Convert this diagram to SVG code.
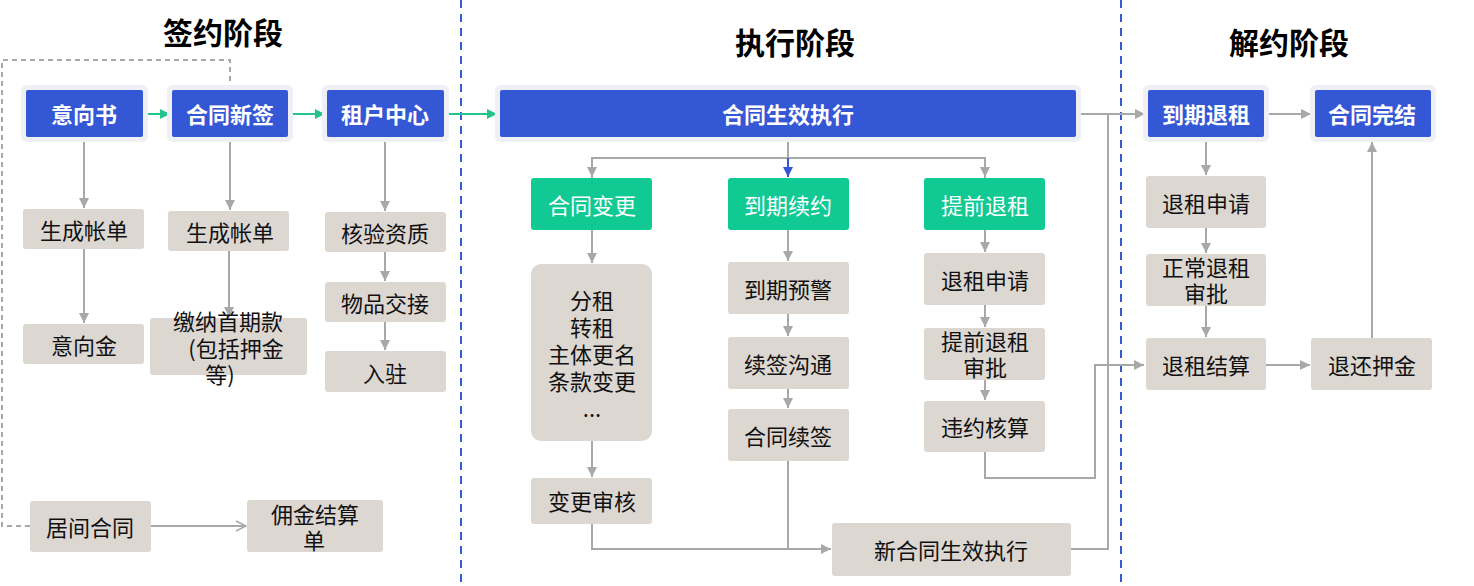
<svg xmlns="http://www.w3.org/2000/svg" width="1474" height="586" viewBox="0 0 1474 586">
<defs>
<style>
text{font-family:"Noto Sans CJK SC","Microsoft YaHei",sans-serif;text-anchor:middle;dominant-baseline:central}
.title{font-size:30px;font-weight:bold;fill:#000}
.bo{fill:#eef0f5}
.b{fill:#3457d5}
.bt{font-size:22px;font-weight:bold;fill:#fff}
.g{fill:#10c993}
.gt{font-size:22px;fill:#fff}
.t{fill:#ddd7d2}
.tt{font-size:22px;fill:#111}
.c{fill:none;stroke:#a8a8a8;stroke-width:2}
.cg{fill:none;stroke:#22c48a;stroke-width:2}
.cb{fill:none;stroke:#3457d5;stroke-width:2}
.div{stroke:#3a5bd0;stroke-width:2;stroke-dasharray:8,6}
</style>
<marker id="ag" viewBox="0 0 10 10" refX="10" refY="5" markerWidth="10" markerHeight="10" markerUnits="userSpaceOnUse" orient="auto"><path d="M0,0L10,5L0,10z" fill="#a8a8a8"/></marker>
<marker id="agr" viewBox="0 0 10 10" refX="10" refY="5" markerWidth="10" markerHeight="10" markerUnits="userSpaceOnUse" orient="auto"><path d="M0,0L10,5L0,10z" fill="#22c48a"/></marker>
<marker id="abl" viewBox="0 0 10 10" refX="10" refY="5" markerWidth="10" markerHeight="10" markerUnits="userSpaceOnUse" orient="auto"><path d="M0,0L10,5L0,10z" fill="#3457d5"/></marker>
<marker id="aopen" viewBox="0 0 12 12" refX="11" refY="6" markerWidth="12" markerHeight="12" markerUnits="userSpaceOnUse" orient="auto"><path d="M1,1L11,6L1,11" fill="none" stroke="#a8a8a8" stroke-width="1.5"/></marker>
</defs>
<rect width="1474" height="586" fill="#fff"/>

<g id="titles">
<text class="title" x="223" y="31">签约阶段</text>
<text class="title" x="795" y="41">执行阶段</text>
<text class="title" x="1289" y="41">解约阶段</text>
</g>

<g id="dividers">
<line class="div" x1="461" y1="0" x2="461" y2="586"/>
<line class="div" x1="1121" y1="0" x2="1121" y2="586"/>
</g>

<g id="connectors">
<path class="c" d="M30,526H2V60H230V85" stroke-dasharray="5,4"/>
<path class="cg" d="M146,114H170" marker-end="url(#agr)"/>
<path class="cg" d="M291,114H325" marker-end="url(#agr)"/>
<path class="cg" d="M447,114H497" marker-end="url(#agr)"/>
<path class="c" d="M84,141V208" marker-end="url(#ag)"/>
<path class="c" d="M84,249V323" marker-end="url(#ag)"/>
<path class="c" d="M230,141V210" marker-end="url(#ag)"/>
<path class="c" d="M229,251V317" marker-end="url(#ag)"/>
<path class="c" d="M385,141V211" marker-end="url(#ag)"/>
<path class="c" d="M385,252V281" marker-end="url(#ag)"/>
<path class="c" d="M385,322V350" marker-end="url(#ag)"/>
<path class="c" d="M151,526H246" marker-end="url(#aopen)"/>
<path class="c" d="M788,137V158M592,178V158H985V178" />
<path class="c" d="M592,158V177" marker-end="url(#ag)"/>
<path class="c" d="M985,158V177" marker-end="url(#ag)"/>
<path class="cb" d="M788,158V177" marker-end="url(#abl)"/>
<path class="c" d="M592,230V263" marker-end="url(#ag)"/>
<path class="c" d="M592,441V477" marker-end="url(#ag)"/>
<path class="c" d="M592,524V549H831" marker-end="url(#ag)"/>
<path class="c" d="M788,230V261" marker-end="url(#ag)"/>
<path class="c" d="M788,314V336" marker-end="url(#ag)"/>
<path class="c" d="M788,389V408" marker-end="url(#ag)"/>
<path class="c" d="M788,461V549"/>
<path class="c" d="M985,230V252" marker-end="url(#ag)"/>
<path class="c" d="M985,305V327" marker-end="url(#ag)"/>
<path class="c" d="M985,380V400" marker-end="url(#ag)"/>
<path class="c" d="M985,452V478H1095V365H1144" marker-end="url(#ag)"/>
<path class="c" d="M1076,114H1145" marker-end="url(#ag)"/>
<path class="c" d="M1071,549H1108V114"/>
<path class="c" d="M1264,114H1311" marker-end="url(#ag)"/>
<path class="c" d="M1206,141V175" marker-end="url(#ag)"/>
<path class="c" d="M1206,228V253" marker-end="url(#ag)"/>
<path class="c" d="M1206,306V337" marker-end="url(#ag)"/>
<path class="c" d="M1266,365H1310" marker-end="url(#ag)"/>
<path class="c" d="M1372,338V142" marker-end="url(#ag)"/>
</g>

<g id="n-yixiangshu"><rect class="bo" x="21" y="85" width="127" height="57" rx="6"/><rect class="b" x="26" y="90" width="117" height="47" rx="2"/><text class="bt" x="84" y="113">意向书</text></g>
<g id="n-hetongxinqian"><rect class="bo" x="167" y="85" width="126" height="57" rx="6"/><rect class="b" x="172" y="90" width="116" height="47" rx="2"/><text class="bt" x="230" y="113">合同新签</text></g>
<g id="n-zuhuzhongxin"><rect class="bo" x="322" y="85" width="127" height="57" rx="6"/><rect class="b" x="327" y="90" width="117" height="47" rx="2"/><text class="bt" x="385" y="113">租户中心</text></g>

<g id="n-shengchengzhangdan1"><rect class="t" x="23" y="209" width="121" height="40" rx="3"/><text class="tt" x="84" y="229">生成帐单</text></g>
<g id="n-shengchengzhangdan2"><rect class="t" x="168" y="211" width="121" height="40" rx="3"/><text class="tt" x="230" y="231">生成帐单</text></g>
<g id="n-heyanzizhi"><rect class="t" x="325" y="212" width="121" height="40" rx="3"/><text class="tt" x="385" y="232">核验资质</text></g>
<g id="n-yixiangjin"><rect class="t" x="23" y="324" width="121" height="40" rx="3"/><text class="tt" x="84" y="344">意向金</text></g>
<g id="n-jiaona"><rect class="t" x="150" y="318" width="157" height="57" rx="3"/><text class="tt"><tspan x="228" y="320">缴纳首期款</tspan><tspan x="236" y="347">(包括押金</tspan><tspan x="220" y="373">等)</tspan></text></g>
<g id="n-wupinjiaojie"><rect class="t" x="325" y="282" width="121" height="40" rx="3"/><text class="tt" x="385" y="302">物品交接</text></g>
<g id="n-ruzhu"><rect class="t" x="325" y="351" width="121" height="41" rx="3"/><text class="tt" x="385" y="372">入驻</text></g>
<g id="n-jujianhetong"><rect class="t" x="30" y="501" width="121" height="51" rx="3"/><text class="tt" x="90" y="526">居间合同</text></g>
<g id="n-yongjin"><rect class="t" x="247" y="500" width="136" height="52" rx="3"/><text class="tt"><tspan x="315" y="513">佣金结算</tspan><tspan x="314" y="539">单</tspan></text></g>

<g id="n-hetongshengxiao"><rect class="bo" x="495" y="85" width="586" height="57" rx="6"/><rect class="b" x="500" y="90" width="576" height="47" rx="2"/><text class="bt" x="788" y="113">合同生效执行</text></g>

<g id="n-hetongbiangeng"><rect class="g" x="531" y="178" width="121" height="52" rx="3"/><text class="gt" x="592" y="204">合同变更</text></g>
<g id="n-daqixuyue"><rect class="g" x="728" y="178" width="121" height="52" rx="3"/><text class="gt" x="788" y="204">到期续约</text></g>
<g id="n-tiqiantuizu"><rect class="g" x="924" y="178" width="121" height="52" rx="3"/><text class="gt" x="985" y="204">提前退租</text></g>

<g id="n-fenzu"><rect class="t" x="531" y="264" width="121" height="177" rx="10"/><text class="tt"><tspan x="592" y="299">分租</tspan><tspan x="592" y="326">转租</tspan><tspan x="592" y="353">主体更名</tspan><tspan x="592" y="380">条款变更</tspan><tspan x="592" y="407">...</tspan></text></g>
<g id="n-biangengshenhe"><rect class="t" x="531" y="478" width="121" height="46" rx="3"/><text class="tt" x="592" y="500">变更审核</text></g>
<g id="n-daoqiyujing"><rect class="t" x="728" y="262" width="121" height="52" rx="3"/><text class="tt" x="788" y="288">到期预警</text></g>
<g id="n-xuqiangoutong"><rect class="t" x="728" y="337" width="121" height="52" rx="3"/><text class="tt" x="788" y="363">续签沟通</text></g>
<g id="n-hetongxuqian"><rect class="t" x="728" y="409" width="121" height="52" rx="3"/><text class="tt" x="788" y="435">合同续签</text></g>
<g id="n-tuizushenqing1"><rect class="t" x="924" y="253" width="121" height="52" rx="3"/><text class="tt" x="985" y="279">退租申请</text></g>
<g id="n-tiqianshenpi"><rect class="t" x="924" y="328" width="121" height="52" rx="3"/><text class="tt"><tspan x="985" y="340">提前退租</tspan><tspan x="985" y="366">审批</tspan></text></g>
<g id="n-weiyuehesuan"><rect class="t" x="924" y="401" width="121" height="51" rx="3"/><text class="tt" x="985" y="426">违约核算</text></g>
<g id="n-xinhetong"><rect class="t" x="832" y="523" width="239" height="53" rx="3"/><text class="tt" x="951" y="549">新合同生效执行</text></g>

<g id="n-daoqituizu"><rect class="bo" x="1143" y="85" width="126" height="57" rx="6"/><rect class="b" x="1148" y="90" width="116" height="47" rx="2"/><text class="bt" x="1206" y="113">到期退租</text></g>
<g id="n-hetongwanjie"><rect class="bo" x="1310" y="85" width="126" height="57" rx="6"/><rect class="b" x="1315" y="90" width="116" height="47" rx="2"/><text class="bt" x="1372" y="113">合同完结</text></g>
<g id="n-tuizushenqing2"><rect class="t" x="1146" y="176" width="120" height="52" rx="3"/><text class="tt" x="1206" y="202">退租申请</text></g>
<g id="n-zhengchangshenpi"><rect class="t" x="1146" y="254" width="120" height="52" rx="3"/><text class="tt"><tspan x="1206" y="266">正常退租</tspan><tspan x="1206" y="292">审批</tspan></text></g>
<g id="n-tuizujiesuan"><rect class="t" x="1146" y="338" width="120" height="52" rx="3"/><text class="tt" x="1206" y="364">退租结算</text></g>
<g id="n-tuihuanyajin"><rect class="t" x="1311" y="338" width="121" height="52" rx="3"/><text class="tt" x="1372" y="364">退还押金</text></g>
</svg>
